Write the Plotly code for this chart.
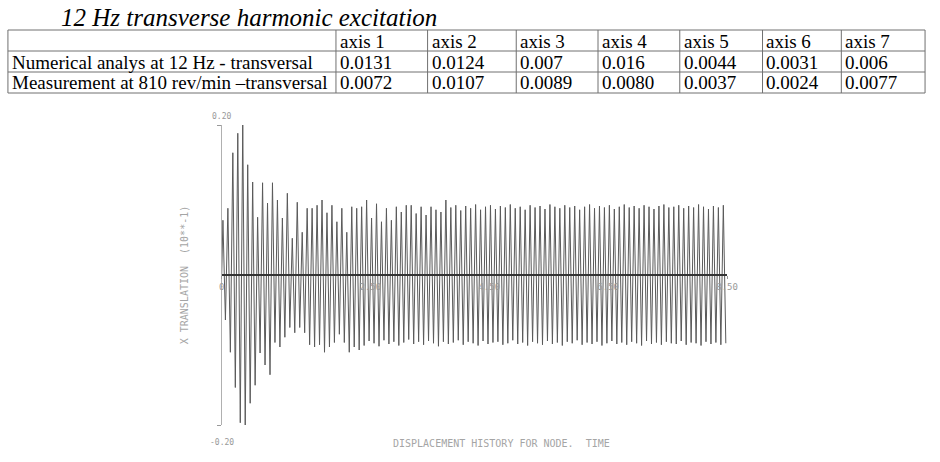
import plotly.graph_objects as go

W, H = 940, 462

# ---------------- table data ----------------
title_text = "12 Hz transverse harmonic excitation"
columns = ["", "axis 1", "axis 2", "axis 3", "axis 4", "axis 5", "axis 6", "axis 7"]
row_labels = ["Numerical analys at 12 Hz - transversal",
              "Measurement at 810 rev/min \u2013transversal"]
numerical = ["0.0131", "0.0124", "0.007", "0.016", "0.0044", "0.0031", "0.006"]
measured = ["0.0072", "0.0107", "0.0089", "0.0080", "0.0037", "0.0024", "0.0077"]

# ---------------- signal data (peak values per 12 Hz cycle) ----------------
freq_hz = 12.0
upper_peaks = [
    0.073, 0.089, 0.163, 0.189, 0.203, 0.147, 0.124, 0.077, 0.123, 0.096,
    0.123, 0.100, 0.076, 0.109, 0.049, 0.097, 0.057, 0.089, 0.089, 0.093,
    0.100, 0.083, 0.093, 0.071, 0.089, 0.057, 0.091, 0.089, 0.091, 0.100,
    0.076, 0.095, 0.071, 0.089, 0.073, 0.091, 0.084, 0.093, 0.093, 0.082,
    0.091, 0.080, 0.091, 0.087, 0.084, 0.100, 0.090, 0.093, 0.086, 0.092,
    0.089, 0.094, 0.087, 0.091, 0.093, 0.088, 0.092, 0.090, 0.094, 0.089,
    0.091, 0.087, 0.093, 0.090, 0.092, 0.088, 0.094, 0.091, 0.089, 0.093,
    0.090, 0.092, 0.087, 0.091, 0.094, 0.089, 0.092, 0.090, 0.093, 0.088,
    0.091, 0.094, 0.090, 0.092, 0.089, 0.093, 0.091, 0.088, 0.092, 0.094,
    0.090, 0.091, 0.093, 0.089, 0.092, 0.090, 0.094, 0.091, 0.088, 0.092,
    0.090, 0.093,
]
lower_peaks = [
    -0.060, -0.103, -0.150, -0.197, -0.200, -0.171, -0.147, -0.104, -0.120, -0.133,
    -0.090, -0.096, -0.083, -0.070, -0.077, -0.070, -0.077, -0.093, -0.096, -0.093,
    -0.103, -0.096, -0.090, -0.079, -0.090, -0.103, -0.096, -0.100, -0.094, -0.088,
    -0.091, -0.095, -0.087, -0.092, -0.089, -0.094, -0.090, -0.086, -0.092, -0.089,
    -0.093, -0.088, -0.091, -0.095, -0.089, -0.092, -0.090, -0.087, -0.093, -0.089,
    -0.091, -0.094, -0.088, -0.092, -0.090, -0.089, -0.093, -0.091, -0.087, -0.092,
    -0.090, -0.094, -0.089, -0.091, -0.093, -0.088, -0.092, -0.090, -0.094, -0.089,
    -0.091, -0.087, -0.093, -0.090, -0.092, -0.089, -0.094, -0.091, -0.088, -0.092,
    -0.090, -0.093, -0.089, -0.091, -0.094, -0.088, -0.092, -0.090, -0.093, -0.089,
    -0.091, -0.092, -0.088, -0.093, -0.090, -0.091, -0.094, -0.089, -0.092, -0.090,
    -0.093, -0.091,
]
x_tick_vals = [0, 2.5, 4.5, 6.5, 8.5]
x_tick_text = ["0", "2.50", "4.50", "6.50", "8.50"]
y_range = [-0.2, 0.2]
y_top_label, y_bottom_label = "0.20", "-0.20"
x_title = "DISPLACEMENT HISTORY FOR NODE.  TIME"
y_title = "X TRANSLATION  (10**-1)"

# build zig-zag trace from peaks
t, y = [0.0], [0.0]
for k, (u, l) in enumerate(zip(upper_peaks, lower_peaks)):
    t += [(k + 0.25) / freq_hz, (k + 0.75) / freq_hz]
    y += [u, l]
t_end = len(upper_peaks) / freq_hz


def px(xp):
    return xp / W


def py(yp):
    return 1 - yp / H


fig = go.Figure()

# signal
fig.add_trace(go.Scatter(x=t, y=y, mode="lines",
                         line=dict(color="#5a5a5a", width=1),
                         hoverinfo="skip", showlegend=False))

y_dom = [py(425), py(125)]
zero_pos = y_dom[0] + (0 - y_range[0]) / (y_range[1] - y_range[0]) * (y_dom[1] - y_dom[0])

mono = "DejaVu Sans Mono"
fig.update_layout(
    width=W, height=H,
    margin=dict(l=0, r=0, t=0, b=0),
    paper_bgcolor="white", plot_bgcolor="white",
    showlegend=False,
    xaxis=dict(domain=[px(222), px(735)], range=[0, t_end], anchor="free",
               position=zero_pos, showgrid=False, zeroline=False,
               showline=True, linecolor="#333", linewidth=1.5,
               tickvals=x_tick_vals, ticktext=x_tick_text,
               ticks="outside", ticklen=3, tickcolor="#999",
               tickfont=dict(family=mono, size=9, color="#999"),
               layer="above traces"),
    yaxis=dict(domain=y_dom, range=y_range, showgrid=False, zeroline=False,
               showline=True, linecolor="#b0b0b0", linewidth=1,
               tickvals=y_range, showticklabels=False,
               ticks="outside", ticklen=4, tickcolor="#999"),
)

ann_font = dict(family=mono, size=8, color="#999")
title_font = dict(family=mono, size=10, color="#a5a5a5")
fig.add_annotation(x=0, y=y_range[1], xref="x", yref="y", text=y_top_label,
                   showarrow=False, yshift=9, font=ann_font)
fig.add_annotation(x=0, y=y_range[0], xref="x", yref="y", text=y_bottom_label,
                   showarrow=False, yshift=-17, font=ann_font)
fig.add_annotation(x=px(506), y=py(443), xref="paper", yref="paper", text=x_title,
                   xanchor="center", yanchor="middle", showarrow=False, font=title_font)
fig.add_annotation(x=px(184), y=py(275), xref="paper", yref="paper", text=y_title,
                   xanchor="center", yanchor="middle",
                   textangle=-90, showarrow=False, font=title_font)

# caption title above table
serif = "Liberation Serif"
fig.add_annotation(x=px(57), y=py(17), xref="paper", yref="paper",
                   xanchor="left", yanchor="middle",
                   text=title_text, showarrow=False,
                   font=dict(family=serif, size=25, color="black", style="italic"))

# ---------------- table (grid lines + text) ----------------
col_edges = [5, 338, 431, 521, 604, 687, 771, 851, 936]
row_edges = [30, 51, 72, 93]
grid = dict(color="#707070", width=1)
for xe in col_edges:
    fig.add_shape(type="line", xref="paper", yref="paper",
                  x0=px(xe), x1=px(xe), y0=py(row_edges[0]), y1=py(row_edges[-1]), line=grid)
for ye in row_edges:
    fig.add_shape(type="line", xref="paper", yref="paper",
                  x0=px(col_edges[0]), x1=px(col_edges[-1]), y0=py(ye), y1=py(ye), line=grid)

table_rows = [columns,
              [row_labels[0]] + numerical,
              [row_labels[1]] + measured]
cell_font = dict(family=serif, size=19, color="black")
for r, row in enumerate(table_rows):
    yc = (row_edges[r] + row_edges[r + 1]) / 2
    for c, txt in enumerate(row):
        if not txt:
            continue
        fig.add_annotation(x=px(col_edges[c] + 2), y=py(yc + 0.5), xref="paper", yref="paper",
                           xanchor="left", yanchor="middle", text=txt, showarrow=False,
                           font=cell_font)

fig.write_html("out.html")
